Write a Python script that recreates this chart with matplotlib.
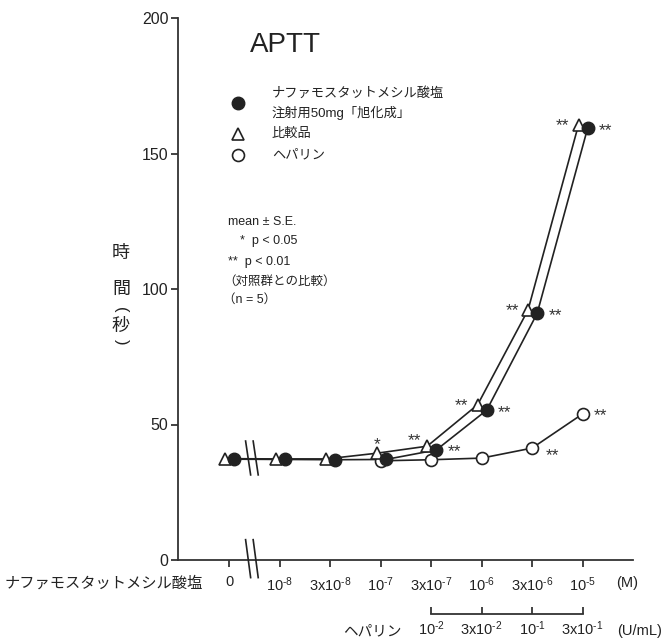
import matplotlib
matplotlib.use("Agg")
import matplotlib.pyplot as plt

plt.rcParams["font.family"] = ["Liberation Sans", "Noto Sans CJK JP"]
plt.rcParams["mathtext.fontset"] = "custom"
plt.rcParams["mathtext.rm"] = "Liberation Sans"
plt.rcParams["mathtext.it"] = "Liberation Sans"

# concentrations on the x axis (index positions)
conc_labels = ["0", "10$^{\\text{-8}}$", "3x10$^{\\text{-8}}$", "10$^{\\text{-7}}$",
               "3x10$^{\\text{-7}}$", "10$^{\\text{-6}}$", "3x10$^{\\text{-6}}$",
               "10$^{\\text{-5}}$"]
heparin_labels = ["10$^{\\text{-2}}$", "3x10$^{\\text{-2}}$", "10$^{\\text{-1}}$",
                  "3x10$^{\\text{-1}}$"]

# APTT (sec), mean values
nafamostat = [37.2, 37.1, 37.0, 37.1, 40.6, 55.3, 91.0, 159.3]
comparator = [37.4, 37.3, 37.3, 39.4, 42.0, 57.3, 92.3, 160.6]
heparin_idx = [3, 4, 5, 6, 7]
heparin = [36.6, 37.0, 37.6, 41.3, 53.9]

# significance marks: (series, index, mark, side)
sig_marks = [
    ("comp", 3, "*", "above"),
    ("comp", 4, "**", "upleft"),
    ("naf", 4, "**", "right"),
    ("comp", 5, "**", "left"),
    ("naf", 5, "**", "right"),
    ("comp", 6, "**", "left"),
    ("naf", 6, "**", "right"),
    ("comp", 7, "**", "left"),
    ("naf", 7, "**", "right"),
    ("hep", 6, "**", "downright"),
    ("hep", 7, "**", "right"),
]

W, H = 670, 643
fig = plt.figure(figsize=(W / 100, H / 100), dpi=100)


def fx(x):
    return x / W


def fy(y):
    return 1 - y / H


ax = fig.add_axes([fx(178), fy(560), (633 - 178) / W, (560 - 18) / H])
ax.set_xlim(-1.02, 8.0)
ax.set_ylim(0, 200)
for s in ["top", "right"]:
    ax.spines[s].set_visible(False)
for s in ["left", "bottom"]:
    ax.spines[s].set_linewidth(1.3)
    ax.spines[s].set_color("#333333")

ax.set_yticks([0, 50, 100, 150, 200])
ax.tick_params(axis="y", labelsize=11.5, length=5, width=1.2, pad=2, colors="#222222")
ax.set_xticks(range(len(conc_labels)), conc_labels)
ax.tick_params(axis="x", labelsize=10.5, length=5, width=1.2, pad=6, colors="#222222")

# offsets so the three series sit side by side
off_naf, off_comp = 0.1, -0.08
xs = list(range(len(conc_labels)))
xn = [x + off_naf for x in xs]
xc = [x + off_comp for x in xs]

lc = "#222222"
ax.plot(xc, comparator, "-", color=lc, lw=1.2, zorder=2)
ax.plot(xn, nafamostat, "-", color=lc, lw=1.2, zorder=2)
ax.plot(heparin_idx, heparin, "-", color=lc, lw=1.2, zorder=2)
ax.plot(heparin_idx, heparin, "o", ms=8.6, mfc="white", mec=lc, mew=1.2, zorder=3, clip_on=False)
ax.plot(xc, comparator, "^", ms=8, mfc="white", mec=lc, mew=1.2, zorder=4, clip_on=False)
ax.plot(xn, nafamostat, "o", ms=9, mfc=lc, mec=lc, zorder=5, clip_on=False)

series = {"naf": (xn, nafamostat), "comp": (xc, comparator),
          "hep": ({i: i for i in heparin_idx}, dict(zip(heparin_idx, heparin)))}
side_off = {"right": (13, -1.5), "left": (-11.5, -0.5), "upleft": (-9, 4),
            "above": (0.5, 6.5), "downright": (15, -5.5)}
for name, i, mark, side in sig_marks:
    sx, sy = series[name]
    dx, dy = side_off[side]
    ax.annotate(mark, (sx[i], sy[i]), xytext=(dx, dy), textcoords="offset points",
                ha="center", va="center", fontsize=12.5, color="#333333", zorder=6)

# axis break marks between 0 and 10^-8
bx = [0.32, 0.47]
for b in bx:
    ax.plot([b, b + 0.1], [43.9, 31.4], color=lc, lw=1.2, zorder=3)
    ax.plot([b, b + 0.1], [7.5, -6.5], color=lc, lw=1.2, zorder=3, clip_on=False)

# heparin concentration scale below the main axis
hep_ax = ax.secondary_xaxis(-0.0996)
hep_ax.set_xticks([4, 5, 6, 7], heparin_labels)
hep_ax.spines["bottom"].set_bounds(4, 7)
hep_ax.spines["bottom"].set_linewidth(1.3)
hep_ax.spines["bottom"].set_color("#333333")
hep_ax.tick_params(direction="in", length=5, width=1.2, labelsize=10.5, pad=4, colors="#222222")

fig.text(fx(5), fy(583), "ナファモスタットメシル酸塩", fontsize=11, va="center", ha="left", color="#222222")
fig.text(fx(627), fy(583), "(M)", fontsize=10.5, va="center", ha="center", color="#222222")
fig.text(fx(372), fy(631), "ヘパリン", fontsize=10.5, va="center", ha="center", color="#222222")
fig.text(fx(640), fy(631), "(U/mL)", fontsize=10.5, va="center", ha="center", color="#222222")

# y axis label, written vertically
for ch, yy in [("時", 253), ("間", 289), ("秒", 326)]:
    fig.text(fx(121), fy(yy), ch, fontsize=13, ha="center", va="center", color="#222222")
fig.text(fx(121), fy(310), "(", fontsize=12, rotation=-90, ha="center", va="center", color="#222222")
fig.text(fx(121), fy(342), ")", fontsize=12, rotation=-90, ha="center", va="center", color="#222222")

fig.text(fx(250), fy(45), "APTT", fontsize=20, ha="left", va="center", color="#222222")

# legend
fig.lines.append(plt.Line2D([fx(238)], [fy(103)], marker="o", ms=9, mfc=lc, mec=lc,
                            transform=fig.transFigure))
fig.lines.append(plt.Line2D([fx(238)], [fy(134)], marker="^", ms=8, mfc="white", mec=lc,
                            mew=1.2, transform=fig.transFigure))
fig.lines.append(plt.Line2D([fx(238)], [fy(155)], marker="o", ms=8.6, mfc="white", mec=lc,
                            mew=1.2, transform=fig.transFigure))
for txt, yy in [("ナファモスタットメシル酸塩", 93), ("注射用50mg「旭化成」", 113),
                ("比較品", 134), ("ヘパリン", 155)]:
    fig.text(fx(272), fy(yy), txt, fontsize=9.5, ha="left", va="center", color="#222222")

# statistics note
for txt, xx, yy in [("mean ± S.E.", 228, 222), ("*  p < 0.05", 240, 241),
                    ("**  p < 0.01", 228, 262), ("（対照群との比較）", 223, 282),
                    ("（n = 5）", 223, 300)]:
    fig.text(fx(xx), fy(yy), txt, fontsize=9, ha="left", va="center", color="#222222")

fig.savefig("out.png", dpi=100)
